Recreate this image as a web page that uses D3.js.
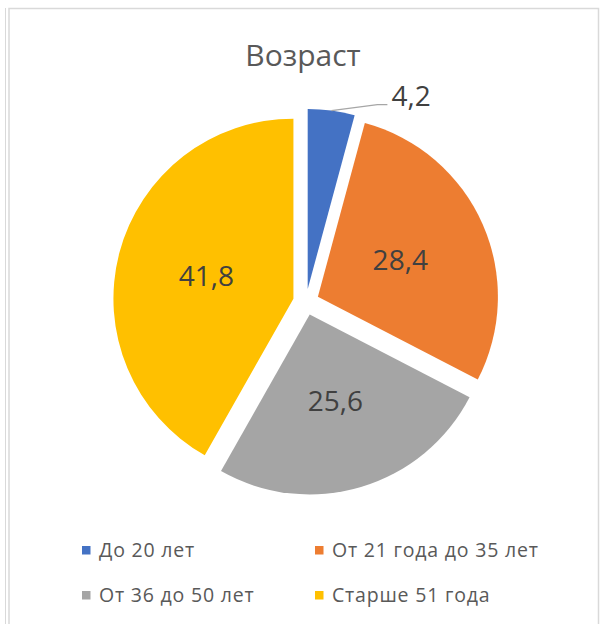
<!DOCTYPE html>
<html>
<head>
<meta charset="utf-8">
<script src="https://cdn.jsdelivr.net/npm/d3@7"></script>
<style>
  body { margin: 0; background: #fff; }
  text { font-family: "Open Sans", "Noto Sans", sans-serif; }
</style>
</head>
<body>
<div class="canvas"></div>
<script>
// data
const categories = ["До 20 лет", "От 21 года до 35 лет", "От 36 до 50 лет", "Старше 51 года"];
const values = [4.2, 28.4, 25.6, 41.8];
const labels = ["4,2", "28,4", "25,6", "41,8"];
const colors = ["#4472C4", "#ED7D31", "#A5A5A5", "#FFC000"];

// dimensions
const w = 601;
const h = 624;
const cx = 306;
const cy = 302;
const radius = 180;
const explode = 13;

const svg = d3.select(".canvas").append("svg").attr("width", w).attr("height", h);

// outer frame lines
svg.append("line").attr("x1", 5.5).attr("x2", 5.5).attr("y1", 8).attr("y2", h).attr("stroke", "#d9d9d9");
svg.append("path")
  .attr("d", `M9,${h} V8.5 H598.5 V${h}`)
  .attr("fill", "none")
  .attr("stroke", "#d9d9d9")
  .attr("stroke-width", 1.5);

// title
svg.append("text")
  .attr("x", 303)
  .attr("y", 66)
  .attr("text-anchor", "middle")
  .attr("fill", "#595959")
  .style("font-size", "30px")
  .text("Возраст");

const pie = d3.pie().sort(null).value((d) => d);
const arcs = pie(values);
const arc = d3.arc().innerRadius(0).outerRadius(radius);

// offset of each exploded slice along its bisector
const shift = (d) => {
  const a = (d.startAngle + d.endAngle) / 2;
  return [Math.sin(a) * explode, -Math.cos(a) * explode];
};

const graph = svg.append("g").attr("transform", `translate(${cx}, ${cy})`);

const slices = graph
  .selectAll("g.slice")
  .data(arcs)
  .enter()
  .append("g")
  .attr("class", "slice")
  .attr("transform", (d) => `translate(${shift(d)})`);

slices.append("path").attr("d", arc).attr("fill", (d, i) => colors[i]);

// labels inside the big slices
slices
  .filter((d, i) => i > 0)
  .append("text")
  .attr("x", (d) => arc.centroid(d)[0])
  .attr("y", (d) => arc.centroid(d)[1])
  .attr("dy", "0.35em")
  .attr("text-anchor", "middle")
  .attr("fill", "#404040")
  .style("font-size", "28px")
  .text((d, i) => labels[i + 1]);

// the small slice gets a leader line and an outside label
const small = slices.filter((d, i) => i === 0);
small.each(function (d) {
  const a = (d.startAngle + d.endAngle) / 2;
  const p0 = [Math.sin(a) * radius, -Math.cos(a) * radius];
  const p1 = [p0[0] + 46, p0[1] - 6];
  const p2 = [p1[0] + 10, p1[1]];
  d3.select(this)
    .append("polyline")
    .attr("points", [p0, p1, p2].map((p) => p.join(",")).join(" "))
    .attr("fill", "none")
    .attr("stroke", "#a6a6a6")
    .attr("stroke-width", 1.2);
  d3.select(this)
    .append("text")
    .attr("x", p2[0] + 4)
    .attr("y", p2[1] - 8)
    .attr("dy", "0.35em")
    .attr("fill", "#404040")
    .style("font-size", "28px")
    .text(labels[0]);
});

// legend
const legendX = d3.scaleOrdinal().domain([0, 1]).range([82, 315]);
const legendY = d3.scaleOrdinal().domain([0, 1]).range([550, 595]);
const legend = svg
  .selectAll("g.legend")
  .data(categories)
  .enter()
  .append("g")
  .attr("class", "legend")
  .attr("transform", (d, i) => `translate(${legendX(i % 2)}, ${legendY(Math.floor(i / 2))})`);

legend.append("rect").attr("x", 0).attr("y", -4).attr("width", 8.5).attr("height", 8.5).attr("fill", (d, i) => colors[i]);
legend
  .append("text")
  .attr("x", 17)
  .attr("y", 0)
  .attr("dy", "0.35em")
  .attr("fill", "#595959")
  .style("font-size", "19.5px")
  .style("letter-spacing", "0.8px")
  .text((d) => d);
</script>
</body>
</html>
